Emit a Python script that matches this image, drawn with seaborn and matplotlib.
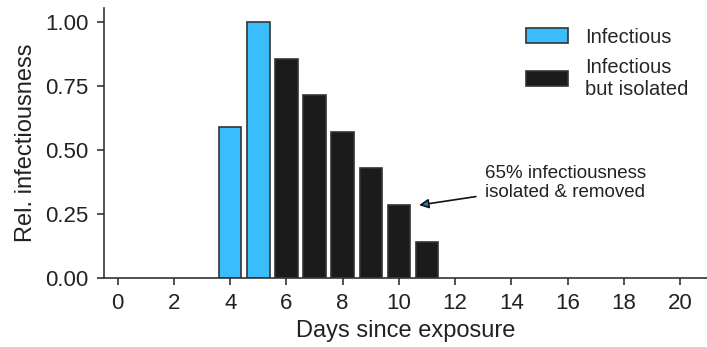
import pandas as pd
import matplotlib
matplotlib.use("Agg")
import matplotlib.pyplot as plt
import seaborn as sns

# Datos
dias = [4, 5, 6, 7, 8, 9, 10, 11]
infecciosidad = [0.59, 1.00, 0.857, 0.714, 0.571, 0.428, 0.285, 0.14]
estado = ["Infectious", "Infectious",
          "Infectious\nbut isolated", "Infectious\nbut isolated",
          "Infectious\nbut isolated", "Infectious\nbut isolated",
          "Infectious\nbut isolated", "Infectious\nbut isolated"]
colores = {"Infectious": "#3abdfd", "Infectious\nbut isolated": "#1b1b1b"}
ticks_x = list(range(0, 21, 2))
ticks_y = [0.0, 0.25, 0.5, 0.75, 1.0]

df = pd.DataFrame({"dia": dias, "inf": infecciosidad, "estado": estado})

sns.set_style("ticks")
plt.rcParams["font.family"] = ["Liberation Sans", "DejaVu Sans"]

fig = plt.figure(figsize=(7.07, 3.47), dpi=100)
ax = fig.add_axes([0.1467, 0.1997, 0.8533, 0.7763])
sns.barplot(data=df, x="dia", y="inf", hue="estado", palette=colores,
            native_scale=True, dodge=False, width=0.8, saturation=1,
            edgecolor="#333333", linewidth=1.2, ax=ax)

ax.set_xlim(-0.5, 20.96)
ax.set_ylim(0, 1.054)
ax.set_xticks(ticks_x)
ax.set_yticks(ticks_y)
ax.set_yticklabels([f"{v:.2f}" for v in ticks_y])
ax.tick_params(labelsize=16, length=5, width=1.2, color="#333333",
               labelcolor="#222222", pad=6)
ax.set_xlabel("Days since exposure", fontsize=17, color="#222222", labelpad=4)
ax.set_ylabel("Rel. infectiousness", fontsize=17, color="#222222", labelpad=6)
for s in ["left", "bottom"]:
    ax.spines[s].set_color("#333333")
    ax.spines[s].set_linewidth(1.2)
sns.despine(ax=ax)

ax.annotate("65% infectiousness\nisolated & removed", xy=(10.72, 0.284),
            xytext=(13.05, 0.37), fontsize=13.5, color="#222222",
            va="center", ha="left", linespacing=1.1,
            arrowprops=dict(arrowstyle="-|>", edgecolor="#111111", lw=1.2,
                            facecolor="#2a7fb0", mutation_scale=14,
                            shrinkA=4, shrinkB=0))

leg = ax.legend(loc="upper left", bbox_to_anchor=(0.67, 0.995), frameon=False,
                fontsize=14.5, handlelength=2.1, handleheight=0.75,
                labelspacing=0.55, handletextpad=0.85)

fig.savefig("out.png", dpi=100)
